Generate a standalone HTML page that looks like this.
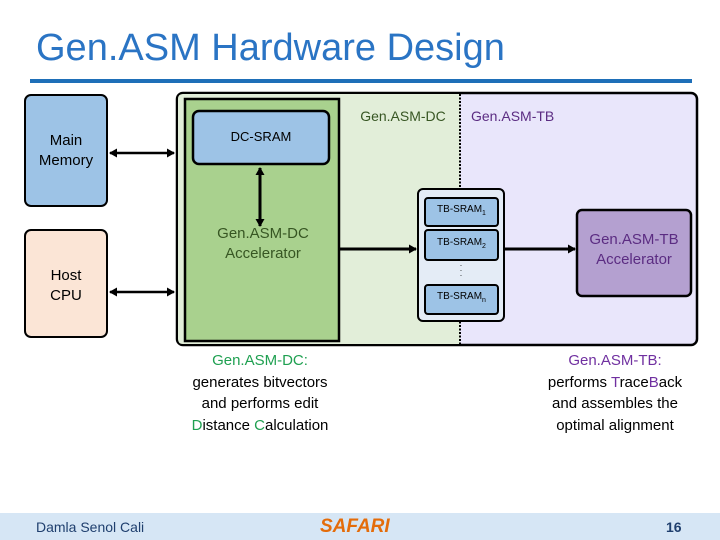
<!DOCTYPE html>
<html><head><style>
body{margin:0;width:720px;height:540px;background:#fff;position:relative;overflow:hidden;font-family:"Liberation Sans",sans-serif}
.a{position:absolute}
.t{position:absolute;text-align:center}
</style></head><body>
<div class="t" style="left:36px;top:27px;font-size:38px;color:#2a74c4;text-align:left;letter-spacing:0px">Gen.ASM Hardware Design</div>
<div class="a" style="left:30px;top:79px;width:662px;height:4px;background:#1e6fb8"></div>

<svg class="a" style="left:0;top:0" width="720" height="540">
<defs>
<marker id="ah" markerWidth="9" markerHeight="9" refX="7" refY="4.5" orient="auto-start-reverse" markerUnits="userSpaceOnUse"><path d="M0,0 L8,4.5 L0,9z" fill="#000"/></marker>
</defs>
<rect x="177" y="93" width="520" height="252" rx="6" fill="#e9e6fb" stroke="#000" stroke-width="2.5"/>
<path d="M183,94 H460 V344 H183 Q178,344 178,339 V99 Q178,94 183,94z" fill="#e2eed9"/>
<line x1="460" y1="94" x2="460" y2="344" stroke="#000" stroke-width="2" stroke-dasharray="2,1.5"/>
<rect x="185" y="99" width="154" height="242" fill="#a9d18e" stroke="#000" stroke-width="2.5"/>
<rect x="193" y="111" width="136" height="53" rx="6" fill="#9dc3e6" stroke="#000" stroke-width="2.5"/>
<rect x="25" y="95" width="82" height="111" rx="6" fill="#9dc3e6" stroke="#000" stroke-width="2"/>
<rect x="25" y="230" width="82" height="107" rx="6" fill="#fbe5d6" stroke="#000" stroke-width="2"/>
<rect x="418" y="189" width="86" height="132" rx="5" fill="#e4ecf6" stroke="#000" stroke-width="2"/>
<rect x="425" y="198" width="73" height="28" rx="3" fill="#9dc3e6" stroke="#000" stroke-width="2"/>
<rect x="425" y="230" width="73" height="30" rx="3" fill="#9dc3e6" stroke="#000" stroke-width="2"/>
<rect x="425" y="285" width="73" height="29" rx="3" fill="#9dc3e6" stroke="#000" stroke-width="2"/>
<rect x="577" y="210" width="114" height="86" rx="5" fill="#b4a0d0" stroke="#000" stroke-width="2.5"/>
<line x1="260" y1="168" x2="260" y2="226" stroke="#000" stroke-width="3" marker-start="url(#ah)" marker-end="url(#ah)"/>
<line x1="110" y1="153" x2="174" y2="153" stroke="#000" stroke-width="2.5" marker-start="url(#ah)" marker-end="url(#ah)"/>
<line x1="110" y1="292" x2="174" y2="292" stroke="#000" stroke-width="2.5" marker-start="url(#ah)" marker-end="url(#ah)"/>
<line x1="340" y1="249" x2="416" y2="249" stroke="#000" stroke-width="3" marker-end="url(#ah)"/>
<line x1="505" y1="249" x2="575" y2="249" stroke="#000" stroke-width="3" marker-end="url(#ah)"/>
<text x="461" y="266" font-size="8" text-anchor="middle">.</text>
<text x="461" y="271" font-size="8" text-anchor="middle">.</text>
<text x="461" y="276" font-size="8" text-anchor="middle">.</text>
</svg>

<div class="t" style="left:25px;top:131px;width:82px;font-size:15px;line-height:20px">Main<br>Memory</div>
<div class="t" style="left:25px;top:266px;width:82px;font-size:15px;line-height:20px">Host<br>CPU</div>
<div class="t" style="left:193px;top:129px;width:136px;font-size:13px">DC-SRAM</div>
<div class="t" style="left:190px;top:224px;width:146px;font-size:15px;line-height:20px;color:#375623">Gen.ASM-DC<br>Accelerator</div>
<div class="t" style="left:348px;top:108px;width:110px;font-size:14px;color:#375623">Gen.ASM-DC</div>
<div class="t" style="left:462px;top:108px;width:110px;font-size:14px;color:#5b2c82;text-align:left;padding-left:9px">Gen.ASM-TB</div>
<div class="t" style="left:425px;top:204px;width:73px;font-size:10px">TB-SRAM<sub style="font-size:7px">1</sub></div>
<div class="t" style="left:425px;top:237px;width:73px;font-size:10px">TB-SRAM<sub style="font-size:7px">2</sub></div>
<div class="t" style="left:425px;top:291px;width:73px;font-size:10px">TB-SRAM<sub style="font-size:7px">n</sub></div>
<div class="t" style="left:577px;top:230px;width:114px;font-size:15px;line-height:20px;color:#5b2c82">Gen.ASM-TB<br>Accelerator</div>

<div class="t" style="left:165px;top:350px;width:190px;font-size:15px;line-height:21.5px"><span style="color:#1fa051">Gen.ASM-DC:</span><br>generates bitvectors<br>and performs edit<br><span style="color:#1fa051">D</span>istance <span style="color:#1fa051">C</span>alculation</div>
<div class="t" style="left:520px;top:350px;width:190px;font-size:15px;line-height:21.5px"><span style="color:#7030a0">Gen.ASM-TB:</span><br>performs <span style="color:#7030a0">T</span>race<span style="color:#7030a0">B</span>ack<br>and assembles the<br>optimal alignment</div>

<div class="a" style="left:0;top:513px;width:720px;height:27px;background:#d6e6f5"></div>
<div class="a" style="left:36px;top:519px;font-size:14px;color:#1f3f6e">Damla Senol Cali</div>
<div class="a" style="left:320px;top:516px;font-size:19px;font-weight:bold;font-style:italic;color:#e46c0a">SAFARI</div>
<div class="a" style="left:666px;top:519px;font-size:14px;font-weight:bold;color:#1f3f6e">16</div>
</body></html>
